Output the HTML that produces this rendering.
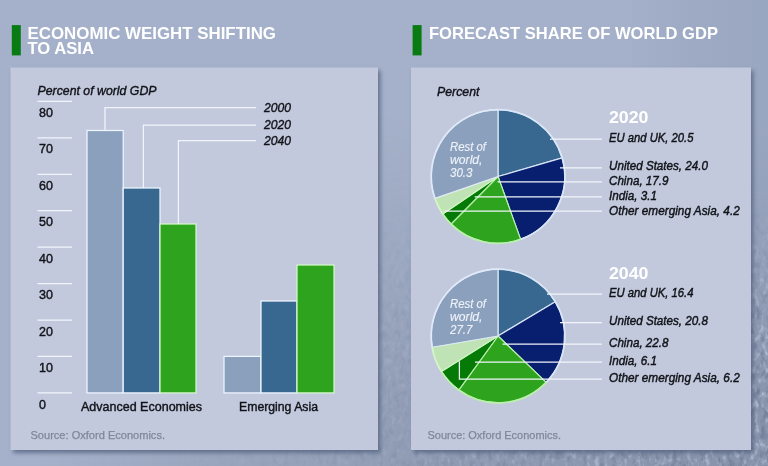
<!DOCTYPE html>
<html><head><meta charset="utf-8"><title>Economic weight shifting to Asia</title>
<style>
html,body{margin:0;padding:0;background:#a5b1ca;}
body{width:768px;height:466px;overflow:hidden;font-family:"Liberation Sans",sans-serif;}
svg{display:block;will-change:transform;}
</style></head><body>
<svg width="768" height="466" viewBox="0 0 768 466">
<defs>
<linearGradient id="bgr" x1="0" y1="0" x2="1" y2="0">
 <stop offset="0" stop-color="#93a0ba" stop-opacity="0"/><stop offset="0.5" stop-color="#93a0ba" stop-opacity="0.4"/><stop offset="1" stop-color="#93a0ba" stop-opacity="0.6"/>
</linearGradient>
<linearGradient id="mh" x1="0" y1="0" x2="768" y2="0" gradientUnits="userSpaceOnUse">
 <stop offset="0.05" stop-color="#000"/><stop offset="0.3" stop-color="#777"/><stop offset="0.55" stop-color="#ccc"/><stop offset="0.85" stop-color="#fff"/>
</linearGradient>
<linearGradient id="mv" x1="0" y1="0" x2="0" y2="466" gradientUnits="userSpaceOnUse">
 <stop offset="0.25" stop-color="#000"/><stop offset="0.55" stop-color="#666"/><stop offset="0.8" stop-color="#ddd"/><stop offset="0.95" stop-color="#fff"/>
</linearGradient>
<linearGradient id="sh2" x1="0" y1="0" x2="768" y2="0" gradientUnits="userSpaceOnUse">
 <stop offset="0.2" stop-color="#000"/><stop offset="0.5" stop-color="#444"/><stop offset="0.75" stop-color="#bbb"/><stop offset="0.93" stop-color="#fff"/>
</linearGradient>
<linearGradient id="sv2" x1="0" y1="0" x2="0" y2="466" gradientUnits="userSpaceOnUse">
 <stop offset="0.42" stop-color="#000"/><stop offset="0.6" stop-color="#999"/><stop offset="0.75" stop-color="#fff"/>
</linearGradient>
<mask id="SV" maskUnits="userSpaceOnUse" x="0" y="0" width="768" height="466"><rect width="768" height="466" fill="url(#sv2)"/></mask>
<mask id="S" maskUnits="userSpaceOnUse" x="0" y="0" width="768" height="466"><rect width="768" height="466" fill="url(#sh2)" mask="url(#SV)"/></mask>
<mask id="MV" maskUnits="userSpaceOnUse" x="0" y="0" width="768" height="466"><rect width="768" height="466" fill="url(#mv)"/></mask>
<mask id="M" maskUnits="userSpaceOnUse" x="0" y="0" width="768" height="466"><rect width="768" height="466" fill="url(#mh)" mask="url(#MV)"/></mask>
<filter id="texL" x="0" y="0" width="100%" height="100%" color-interpolation-filters="sRGB">
 <feTurbulence type="fractalNoise" baseFrequency="0.22 0.12" numOctaves="3" seed="11"/>
 <feColorMatrix type="matrix" values="0 0 0 0 0.80  0 0 0 0 0.84  0 0 0 0 0.92  3.2 0 0 0 -1.55"/>
</filter>
<filter id="texD" x="0" y="0" width="100%" height="100%" color-interpolation-filters="sRGB">
 <feTurbulence type="fractalNoise" baseFrequency="0.18 0.10" numOctaves="3" seed="4"/>
 <feColorMatrix type="matrix" values="0 0 0 0 0.36  0 0 0 0 0.41  0 0 0 0 0.52  0 3.0 0 0 -1.45"/>
</filter>
<filter id="sh" x="-10%" y="-10%" width="120%" height="120%"><feGaussianBlur stdDeviation="2.2"/></filter>
</defs>
<rect width="768" height="466" fill="#a5b1ca"/>
<rect x="620" y="0" width="148" height="466" fill="url(#bgr)"/>
<g mask="url(#M)"><rect width="768" height="466" fill="#7f8ba3" opacity="0.7"/></g>
<g mask="url(#S)"><rect width="768" height="466" filter="url(#texL)" opacity="0.55"/><rect width="768" height="466" filter="url(#texD)" opacity="0.5"/></g>
<rect x="13.0" y="70.5" width="367.5" height="382.5" fill="#556280" opacity="0.8" filter="url(#sh)"/>
<rect x="10.5" y="67.5" width="367.5" height="382.5" fill="#c3c9dd"/>
<rect x="413.5" y="70.5" width="340" height="382.5" fill="#556280" opacity="0.8" filter="url(#sh)"/>
<rect x="411" y="67.5" width="340" height="382.5" fill="#c3c9dd"/>
<rect x="11.8" y="25.1" width="9" height="30.3" fill="#087b13"/>
<rect x="412.6" y="25.1" width="9" height="30.3" fill="#087b13"/>
<text x="27.5" y="38.6" font-family="Liberation Sans, sans-serif" font-size="15.7" fill="#fff" font-weight="700" textLength="248.5" lengthAdjust="spacingAndGlyphs">ECONOMIC WEIGHT SHIFTING</text>
<text x="27.5" y="54.0" font-family="Liberation Sans, sans-serif" font-size="15.7" fill="#fff" font-weight="700" textLength="66.5" lengthAdjust="spacingAndGlyphs">TO ASIA</text>
<text x="429" y="38.6" font-family="Liberation Sans, sans-serif" font-size="15.7" fill="#fff" font-weight="700" textLength="289" lengthAdjust="spacingAndGlyphs">FORECAST SHARE OF WORLD GDP</text>
<text x="37.5" y="95" font-family="Liberation Sans, sans-serif" font-size="13.0" fill="#111318" font-style="italic" stroke="#111318" stroke-width="0.4" textLength="119" lengthAdjust="spacingAndGlyphs">Percent of world GDP</text>
<line x1="37.5" x2="72" y1="392.90" y2="392.90" stroke="#f1f5fb" stroke-width="1.25"/>
<text x="39" y="408.5" font-family="Liberation Sans, sans-serif" font-size="12.5" fill="#111318" stroke="#111318" stroke-width="0.4">0</text>
<line x1="37.5" x2="72" y1="356.46" y2="356.46" stroke="#f1f5fb" stroke-width="1.25"/>
<text x="39" y="372.06" font-family="Liberation Sans, sans-serif" font-size="12.5" fill="#111318" stroke="#111318" stroke-width="0.4">10</text>
<line x1="37.5" x2="72" y1="320.02" y2="320.02" stroke="#f1f5fb" stroke-width="1.25"/>
<text x="39" y="335.62" font-family="Liberation Sans, sans-serif" font-size="12.5" fill="#111318" stroke="#111318" stroke-width="0.4">20</text>
<line x1="37.5" x2="72" y1="283.58" y2="283.58" stroke="#f1f5fb" stroke-width="1.25"/>
<text x="39" y="299.18" font-family="Liberation Sans, sans-serif" font-size="12.5" fill="#111318" stroke="#111318" stroke-width="0.4">30</text>
<line x1="37.5" x2="72" y1="247.14" y2="247.14" stroke="#f1f5fb" stroke-width="1.25"/>
<text x="39" y="262.74" font-family="Liberation Sans, sans-serif" font-size="12.5" fill="#111318" stroke="#111318" stroke-width="0.4">40</text>
<line x1="37.5" x2="72" y1="210.70" y2="210.70" stroke="#f1f5fb" stroke-width="1.25"/>
<text x="39" y="226.3" font-family="Liberation Sans, sans-serif" font-size="12.5" fill="#111318" stroke="#111318" stroke-width="0.4">50</text>
<line x1="37.5" x2="72" y1="174.26" y2="174.26" stroke="#f1f5fb" stroke-width="1.25"/>
<text x="39" y="189.86" font-family="Liberation Sans, sans-serif" font-size="12.5" fill="#111318" stroke="#111318" stroke-width="0.4">60</text>
<line x1="37.5" x2="72" y1="137.82" y2="137.82" stroke="#f1f5fb" stroke-width="1.25"/>
<text x="39" y="153.42" font-family="Liberation Sans, sans-serif" font-size="12.5" fill="#111318" stroke="#111318" stroke-width="0.4">70</text>
<line x1="37.5" x2="72" y1="101.38" y2="101.38" stroke="#f1f5fb" stroke-width="1.25"/>
<text x="39" y="116.98" font-family="Liberation Sans, sans-serif" font-size="12.5" fill="#111318" stroke="#111318" stroke-width="0.4">80</text>
<rect x="87.0" y="130.5" width="36.20" height="262.40" fill="#8aa0bd" stroke="#eef5ff" stroke-width="1.25"/>
<rect x="123.2" y="188" width="36.80" height="204.90" fill="#38688f" stroke="#eef5ff" stroke-width="1.25"/>
<rect x="160" y="224" width="36.00" height="168.90" fill="#2ea31d" stroke="#d3f8c8" stroke-width="1.25"/>
<rect x="224" y="356.4" width="37.00" height="36.50" fill="#8aa0bd" stroke="#eef5ff" stroke-width="1.25"/>
<rect x="261" y="301" width="36.00" height="91.90" fill="#38688f" stroke="#eef5ff" stroke-width="1.25"/>
<rect x="297" y="265" width="37.00" height="127.90" fill="#2ea31d" stroke="#d3f8c8" stroke-width="1.25"/>
<path d="M105,130.5 V107.6 H256" fill="none" stroke="#f1f5fb" stroke-width="1.25"/>
<path d="M143.4,188 V125 H256" fill="none" stroke="#f1f5fb" stroke-width="1.25"/>
<path d="M178.4,224 V140.6 H256" fill="none" stroke="#f1f5fb" stroke-width="1.25"/>
<text x="264" y="112.4" font-family="Liberation Sans, sans-serif" font-size="13.0" fill="#111318" font-style="italic" stroke="#111318" stroke-width="0.4" textLength="27" lengthAdjust="spacingAndGlyphs">2000</text>
<text x="264" y="129.3" font-family="Liberation Sans, sans-serif" font-size="13.0" fill="#111318" font-style="italic" stroke="#111318" stroke-width="0.4" textLength="27" lengthAdjust="spacingAndGlyphs">2020</text>
<text x="264" y="145.4" font-family="Liberation Sans, sans-serif" font-size="13.0" fill="#111318" font-style="italic" stroke="#111318" stroke-width="0.4" textLength="27" lengthAdjust="spacingAndGlyphs">2040</text>
<text x="81" y="411.2" font-family="Liberation Sans, sans-serif" font-size="12.8" fill="#111318" stroke="#111318" stroke-width="0.4" textLength="121" lengthAdjust="spacingAndGlyphs">Advanced Economies</text>
<text x="239" y="411.2" font-family="Liberation Sans, sans-serif" font-size="12.8" fill="#111318" stroke="#111318" stroke-width="0.4" textLength="79" lengthAdjust="spacingAndGlyphs">Emerging Asia</text>
<text x="30.5" y="438.8" font-family="Liberation Sans, sans-serif" font-size="11.5" fill="#7f8799" stroke="#7f8799" stroke-width="0.25" textLength="134.5" lengthAdjust="spacingAndGlyphs">Source: Oxford Economics.</text>
<text x="437" y="95.8" font-family="Liberation Sans, sans-serif" font-size="13.0" fill="#111318" font-style="italic" stroke="#111318" stroke-width="0.4" textLength="42.5" lengthAdjust="spacingAndGlyphs">Percent</text>
<path d="M498,176.5 L498.00,109.70 A66.8,66.8 0 0 1 562.15,157.86 Z" fill="#38688f" stroke="#d9e6f7" stroke-width="1.2" stroke-linejoin="round"/>
<path d="M498,176.5 L562.15,157.86 A66.8,66.8 0 0 1 520.63,239.35 Z" fill="#071f6e" stroke="#d9e6f7" stroke-width="1.2" stroke-linejoin="round"/>
<path d="M498,176.5 L520.63,239.35 A66.8,66.8 0 0 1 451.06,224.03 Z" fill="#2ea31d" stroke="#b9f0aa" stroke-width="1.2" stroke-linejoin="round"/>
<path d="M498,176.5 L451.06,224.03 A66.8,66.8 0 0 1 442.75,214.05 Z" fill="#067a06" stroke="#b9f0aa" stroke-width="1.2" stroke-linejoin="round"/>
<path d="M498,176.5 L442.75,214.05 A66.8,66.8 0 0 1 434.87,198.34 Z" fill="#bfe3b4" stroke="#d3f5c8" stroke-width="1.2" stroke-linejoin="round"/>
<path d="M498,176.5 L434.87,198.34 A66.8,66.8 0 0 1 498.00,109.70 Z" fill="#8aa0bd" stroke="#dfe9f7" stroke-width="1.2" stroke-linejoin="round"/>
<path d="M498.00,109.70 A66.8,66.8 0 0 1 562.15,157.86" fill="none" stroke="#d9e6f7" stroke-width="1.7"/>
<path d="M562.15,157.86 A66.8,66.8 0 0 1 520.63,239.35" fill="none" stroke="#d9e6f7" stroke-width="1.7"/>
<path d="M520.63,239.35 A66.8,66.8 0 0 1 451.06,224.03" fill="none" stroke="#b9f0aa" stroke-width="1.7"/>
<path d="M451.06,224.03 A66.8,66.8 0 0 1 442.75,214.05" fill="none" stroke="#b9f0aa" stroke-width="1.7"/>
<path d="M442.75,214.05 A66.8,66.8 0 0 1 434.87,198.34" fill="none" stroke="#d3f5c8" stroke-width="1.7"/>
<path d="M434.87,198.34 A66.8,66.8 0 0 1 498.00,109.70" fill="none" stroke="#dfe9f7" stroke-width="1.7"/>
<path d="M498,336 L498.00,269.20 A66.8,66.8 0 0 1 555.28,301.64 Z" fill="#38688f" stroke="#d9e6f7" stroke-width="1.2" stroke-linejoin="round"/>
<path d="M498,336 L555.28,301.64 A66.8,66.8 0 0 1 546.12,382.34 Z" fill="#071f6e" stroke="#d9e6f7" stroke-width="1.2" stroke-linejoin="round"/>
<path d="M498,336 L546.12,382.34 A66.8,66.8 0 0 1 458.74,390.04 Z" fill="#2ea31d" stroke="#b9f0aa" stroke-width="1.2" stroke-linejoin="round"/>
<path d="M498,336 L458.74,390.04 A66.8,66.8 0 0 1 441.38,371.44 Z" fill="#067a06" stroke="#b9f0aa" stroke-width="1.2" stroke-linejoin="round"/>
<path d="M498,336 L441.38,371.44 A66.8,66.8 0 0 1 432.16,347.28 Z" fill="#bfe3b4" stroke="#d3f5c8" stroke-width="1.2" stroke-linejoin="round"/>
<path d="M498,336 L432.16,347.28 A66.8,66.8 0 0 1 498.00,269.20 Z" fill="#8aa0bd" stroke="#dfe9f7" stroke-width="1.2" stroke-linejoin="round"/>
<path d="M498.00,269.20 A66.8,66.8 0 0 1 555.28,301.64" fill="none" stroke="#d9e6f7" stroke-width="1.7"/>
<path d="M555.28,301.64 A66.8,66.8 0 0 1 546.12,382.34" fill="none" stroke="#d9e6f7" stroke-width="1.7"/>
<path d="M546.12,382.34 A66.8,66.8 0 0 1 458.74,390.04" fill="none" stroke="#b9f0aa" stroke-width="1.7"/>
<path d="M458.74,390.04 A66.8,66.8 0 0 1 441.38,371.44" fill="none" stroke="#b9f0aa" stroke-width="1.7"/>
<path d="M441.38,371.44 A66.8,66.8 0 0 1 432.16,347.28" fill="none" stroke="#d3f5c8" stroke-width="1.7"/>
<path d="M432.16,347.28 A66.8,66.8 0 0 1 498.00,269.20" fill="none" stroke="#dfe9f7" stroke-width="1.7"/>
<line x1="550" x2="602" y1="139" y2="139" stroke="#f1f5fb" stroke-width="1.25"/>
<line x1="560" x2="602" y1="167.75" y2="167.75" stroke="#f1f5fb" stroke-width="1.25"/>
<line x1="497.5" x2="602" y1="181.75" y2="181.75" stroke="#f1f5fb" stroke-width="1.25"/>
<line x1="474.7" x2="602" y1="196.75" y2="196.75" stroke="#f1f5fb" stroke-width="1.25"/>
<line x1="444.6" x2="602" y1="211" y2="211" stroke="#f1f5fb" stroke-width="1.25"/>
<line x1="547" x2="602" y1="294" y2="294" stroke="#f1f5fb" stroke-width="1.25"/>
<line x1="560" x2="602" y1="322.5" y2="322.5" stroke="#f1f5fb" stroke-width="1.25"/>
<line x1="502.5" x2="602" y1="344" y2="344" stroke="#f1f5fb" stroke-width="1.25"/>
<line x1="475" x2="602" y1="362" y2="362" stroke="#f1f5fb" stroke-width="1.25"/>
<path d="M459.4,361.3 V379.2 H602" fill="none" stroke="#f1f5fb" stroke-width="1.25"/>
<text x="609" y="123.0" font-family="Liberation Sans, sans-serif" font-size="17.0" fill="#fff" font-weight="700" textLength="39.5" lengthAdjust="spacingAndGlyphs">2020</text>
<text x="609" y="278.5" font-family="Liberation Sans, sans-serif" font-size="17.0" fill="#fff" font-weight="700" textLength="39.5" lengthAdjust="spacingAndGlyphs">2040</text>
<text x="609" y="142.29999999999998" font-family="Liberation Sans, sans-serif" font-size="13.0" fill="#111318" font-style="italic" stroke="#111318" stroke-width="0.45" textLength="84.5" lengthAdjust="spacingAndGlyphs">EU and UK, 20.5</text>
<text x="609" y="170.29999999999998" font-family="Liberation Sans, sans-serif" font-size="13.0" fill="#111318" font-style="italic" stroke="#111318" stroke-width="0.45" textLength="99" lengthAdjust="spacingAndGlyphs">United States, 24.0</text>
<text x="609" y="185.29999999999998" font-family="Liberation Sans, sans-serif" font-size="13.0" fill="#111318" font-style="italic" stroke="#111318" stroke-width="0.45" textLength="59.5" lengthAdjust="spacingAndGlyphs">China, 17.9</text>
<text x="609" y="200.29999999999998" font-family="Liberation Sans, sans-serif" font-size="13.0" fill="#111318" font-style="italic" stroke="#111318" stroke-width="0.45" textLength="48" lengthAdjust="spacingAndGlyphs">India, 3.1</text>
<text x="609" y="215.29999999999998" font-family="Liberation Sans, sans-serif" font-size="13.0" fill="#111318" font-style="italic" stroke="#111318" stroke-width="0.45" textLength="130.75" lengthAdjust="spacingAndGlyphs">Other emerging Asia, 4.2</text>
<text x="609" y="297.3" font-family="Liberation Sans, sans-serif" font-size="13.0" fill="#111318" font-style="italic" stroke="#111318" stroke-width="0.45" textLength="84.5" lengthAdjust="spacingAndGlyphs">EU and UK, 16.4</text>
<text x="609" y="325.3" font-family="Liberation Sans, sans-serif" font-size="13.0" fill="#111318" font-style="italic" stroke="#111318" stroke-width="0.45" textLength="99" lengthAdjust="spacingAndGlyphs">United States, 20.8</text>
<text x="609" y="346.8" font-family="Liberation Sans, sans-serif" font-size="13.0" fill="#111318" font-style="italic" stroke="#111318" stroke-width="0.45" textLength="59.5" lengthAdjust="spacingAndGlyphs">China, 22.8</text>
<text x="609" y="365.3" font-family="Liberation Sans, sans-serif" font-size="13.0" fill="#111318" font-style="italic" stroke="#111318" stroke-width="0.45" textLength="48" lengthAdjust="spacingAndGlyphs">India, 6.1</text>
<text x="609" y="381.8" font-family="Liberation Sans, sans-serif" font-size="13.0" fill="#111318" font-style="italic" stroke="#111318" stroke-width="0.45" textLength="130.75" lengthAdjust="spacingAndGlyphs">Other emerging Asia, 6.2</text>
<text x="450" y="151" font-family="Liberation Sans, sans-serif" font-size="12.8" fill="#eef2f9" font-style="italic" stroke="#eef2f9" stroke-width="0.15" textLength="36" lengthAdjust="spacingAndGlyphs">Rest of</text>
<text x="450" y="164" font-family="Liberation Sans, sans-serif" font-size="12.8" fill="#eef2f9" font-style="italic" stroke="#eef2f9" stroke-width="0.15" textLength="32.5" lengthAdjust="spacingAndGlyphs">world,</text>
<text x="450" y="177.2" font-family="Liberation Sans, sans-serif" font-size="12.8" fill="#eef2f9" font-style="italic" stroke="#eef2f9" stroke-width="0.15" textLength="22.5" lengthAdjust="spacingAndGlyphs">30.3</text>
<text x="450" y="307.5" font-family="Liberation Sans, sans-serif" font-size="12.8" fill="#eef2f9" font-style="italic" stroke="#eef2f9" stroke-width="0.15" textLength="36" lengthAdjust="spacingAndGlyphs">Rest of</text>
<text x="450" y="320.5" font-family="Liberation Sans, sans-serif" font-size="12.8" fill="#eef2f9" font-style="italic" stroke="#eef2f9" stroke-width="0.15" textLength="32.5" lengthAdjust="spacingAndGlyphs">world,</text>
<text x="450" y="333.5" font-family="Liberation Sans, sans-serif" font-size="12.8" fill="#eef2f9" font-style="italic" stroke="#eef2f9" stroke-width="0.15" textLength="22.5" lengthAdjust="spacingAndGlyphs">27.7</text>
<text x="427.5" y="438.8" font-family="Liberation Sans, sans-serif" font-size="11.5" fill="#7f8799" stroke="#7f8799" stroke-width="0.25" textLength="133.5" lengthAdjust="spacingAndGlyphs">Source: Oxford Economics.</text>
</svg>
</body></html>
